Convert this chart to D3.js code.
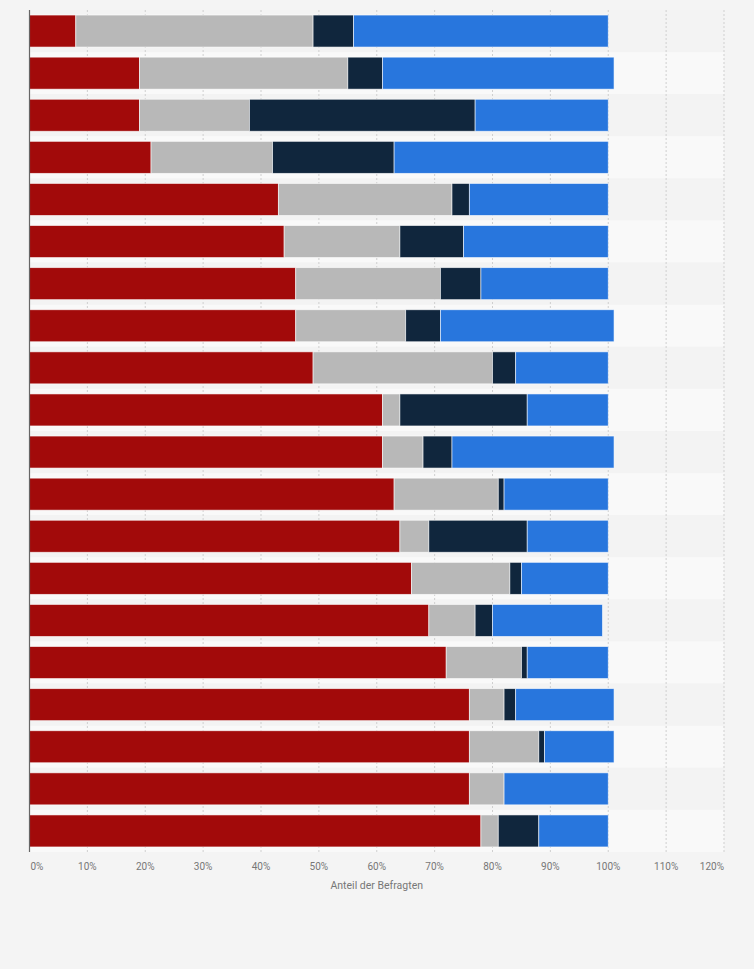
<!DOCTYPE html>
<html>
<head>
<meta charset="utf-8">
<script src="https://cdn.jsdelivr.net/npm/d3@7"></script>
<style>
  html, body { margin: 0; padding: 0; background: #f4f4f4; }
  svg { display: block; font-family: Roboto, "Liberation Sans", Arial, sans-serif; }
</style>
</head>
<body>
<svg id="chart" width="754" height="969"></svg>
<script>
// ---- data ----
const categories = Array.from({length: 20}, (_, i) => "Kategorie " + (i + 1));
const seriesNames = ["Serie 1", "Serie 2", "Serie 3", "Serie 4"];
const seriesColors = ["#a20a0a", "#b8b8b8", "#10263d", "#2876dd"];
const serie1 = [8, 19, 19, 21, 43, 44, 46, 46, 49, 61, 61, 63, 64, 66, 69, 72, 76, 76, 76, 78];
const serie2 = [41, 36, 19, 21, 30, 20, 25, 19, 31, 3, 7, 18, 5, 17, 8, 13, 6, 12, 6, 3];
const serie3 = [7, 6, 39, 21, 3, 11, 7, 6, 4, 22, 5, 1, 17, 2, 3, 1, 2, 1, 0, 7];
const serie4 = [44, 40, 23, 37, 24, 25, 22, 30, 16, 14, 28, 18, 14, 15, 19, 14, 17, 12, 18, 12];
const xTicks = [0, 10, 20, 30, 40, 50, 60, 70, 80, 90, 100, 110, 120];
const xTickLabels = ["0%", "10%", "20%", "30%", "40%", "50%", "60%", "70%", "80%", "90%", "100%", "110%", "120%"];
const xAxisTitle = "Anteil der Befragten";

// ---- build table ----
const rows = categories.map((c, i) => ({
  cat: c,
  s0: serie1[i], s1: serie2[i], s2: serie3[i], s3: serie4[i]
}));
const keys = ["s0", "s1", "s2", "s3"];
const stacked = d3.stack().keys(keys)(rows);

const svg = d3.select("#chart");
const margin = {left: 29.5, right: 30, top: 10, bottom: 117};
const W = 754, H = 969;

const x = d3.scaleLinear().domain([0, 120]).range([margin.left, W - margin.right]);
const y = d3.scaleBand().domain(categories).range([margin.top, H - margin.bottom])
  .paddingInner(0.24).paddingOuter(0.12);
const step = y.step();
const outerPad = step * 0.12;

// alternating row stripes
svg.append("g").selectAll("rect").data(categories).join("rect")
  .attr("x", x(0))
  .attr("y", d => y(d) - outerPad)
  .attr("width", x(120) - x(0))
  .attr("height", step)
  .attr("fill", (d, i) => i % 2 === 1 ? "#f9f9f9" : "#f3f3f3");

// gridlines
svg.append("g").selectAll("line").data(xTicks.filter(t => t > 0)).join("line")
  .attr("x1", d => x(d)).attr("x2", d => x(d))
  .attr("y1", margin.top).attr("y2", H - margin.bottom)
  .attr("stroke", "#cfcfcf")
  .attr("stroke-width", 1)
  .attr("stroke-dasharray", "2,2");

// bars
svg.append("g").selectAll("g").data(stacked).join("g")
  .attr("fill", (d, i) => seriesColors[i])
  .selectAll("rect").data(d => d.filter(s => s[1] - s[0] > 0)).join("rect")
  .attr("x", d => x(d[0]))
  .attr("y", d => y(d.data.cat))
  .attr("width", d => x(d[1]) - x(d[0]))
  .attr("height", y.bandwidth())
  .attr("stroke", "#ffffff")
  .attr("stroke-opacity", 0.7)
  .attr("stroke-width", 0.8);

// left axis line
svg.append("line")
  .attr("x1", x(0)).attr("x2", x(0))
  .attr("y1", margin.top).attr("y2", H - margin.bottom)
  .attr("stroke", "#666").attr("stroke-width", 1.2);

// x tick labels
const lastIdx = xTicks.length - 1;
svg.append("g").selectAll("text").data(xTicks).join("text")
  .attr("x", (d, i) => i === 0 ? x(d) + 1 : (i === lastIdx ? x(d) : x(d)))
  .attr("y", H - margin.bottom + 18)
  .attr("text-anchor", (d, i) => i === 0 ? "start" : (i === lastIdx ? "end" : "middle"))
  .attr("font-size", 10)
  .attr("fill", "#777")
  .text((d, i) => xTickLabels[i]);

// axis title
svg.append("text")
  .attr("x", (x(0) + x(120)) / 2)
  .attr("y", H - margin.bottom + 37)
  .attr("text-anchor", "middle")
  .attr("font-size", 10.5)
  .attr("fill", "#777")
  .text(xAxisTitle);
</script>
</body>
</html>
